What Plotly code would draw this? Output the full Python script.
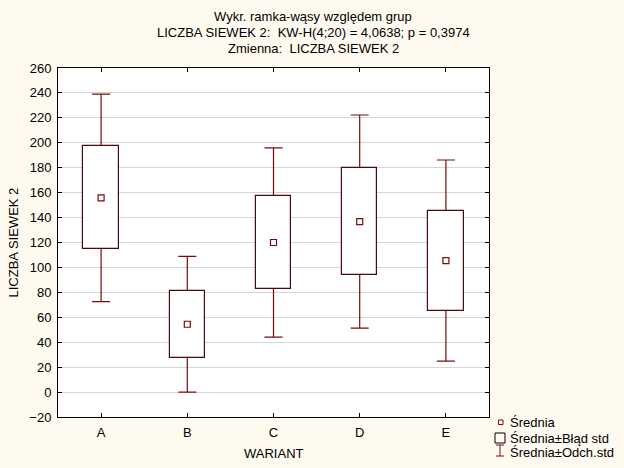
import numpy as np
import plotly.graph_objects as go

categories = ["A", "B", "C", "D", "E"]
means = [155.8, 54.4, 120.0, 136.8, 105.5]
std_err = [41.4, 26.9, 37.7, 42.6, 40.1]
std_dev = [83.3, 54.4, 75.9, 85.5, 80.7]
y_ticks = list(range(-20, 261, 20))

mean = np.array(means)
se = np.array(std_err)
sd = np.array(std_dev)

W, H = 624, 468
L, R, T, B = 58, 489, 68, 417
BOX_COL = "#4a0a0a"
WH_COL = "#7a0c0c"
FONT = "Liberation Sans, Arial, sans-serif"
FS = 13


def px(x):
    return (x - L) / (R - L)


def py(y):
    return (B - y) / (B - T)


fig = go.Figure()

# whiskers: mean ± standard deviation (drawn under the boxes)
fig.add_trace(go.Scatter(
    x=categories, y=mean, mode="markers", marker=dict(size=1, opacity=0),
    error_y=dict(type="data", symmetric=True, array=sd,
                 width=9, thickness=1.2, color=WH_COL),
    showlegend=False, hoverinfo="skip", xaxis="x", yaxis="y"))

# boxes: mean ± standard error, on an overlaid axis pair so they sit above the whiskers
fig.add_trace(go.Bar(
    x=categories, y=2 * se, base=mean - se, width=0.41,
    marker=dict(color="white", line=dict(color=BOX_COL, width=1.2)),
    showlegend=False, hoverinfo="skip", xaxis="x2", yaxis="y2"))

# mean markers
fig.add_trace(go.Scatter(
    x=categories, y=mean, mode="markers",
    marker=dict(symbol="square-open", size=6, color=WH_COL, line=dict(width=1.2, color=WH_COL)),
    showlegend=False, xaxis="x2", yaxis="y2"))

annotations = []
title_lines = ["Wykr. ramka-wąsy względem grup",
               "LICZBA SIEWEK 2:\u00a0 KW-H(4;20) = 4,0638; p = 0,3974",
               "Zmienna:\u00a0 LICZBA SIEWEK 2"]
for i, t in enumerate(title_lines):
    annotations.append(dict(text=t, xref="paper", yref="paper", x=px(313), y=py(16 + 16.2 * i),
                            xanchor="center", yanchor="middle", showarrow=False,
                            font=dict(size=FS, color="black", family=FONT)))

annotations.append(dict(text="LICZBA SIEWEK 2", xref="paper", yref="paper", x=px(13), y=0.5,
                        textangle=-90, xanchor="center", yanchor="middle", showarrow=False,
                        font=dict(size=FS, color="black", family=FONT)))
annotations.append(dict(text="WARIANT", xref="x", yref="paper", x=2, y=py(453),
                        xanchor="center", yanchor="middle", showarrow=False,
                        font=dict(size=FS, color="black", family=FONT)))

legend_items = ["Średnia", "Średnia±Błąd std", "Średnia±Odch.std"]
legend_y = [422, 438, 452]
for t, yy in zip(legend_items, legend_y):
    annotations.append(dict(text=t, xref="paper", yref="paper", x=px(508), y=py(yy),
                            xanchor="left", yanchor="middle", showarrow=False,
                            font=dict(size=FS, color="black", family=FONT)))

shapes = [
    dict(type="rect", xref="paper", yref="paper", x0=px(498.5), x1=px(503), y0=py(424.5), y1=py(420),
         line=dict(color=WH_COL, width=1)),
    dict(type="rect", xref="paper", yref="paper", x0=px(495), x1=px(505), y0=py(443), y1=py(433),
         line=dict(color="black", width=1)),
    dict(type="line", xref="paper", yref="paper", x0=px(500), x1=px(500), y0=py(456), y1=py(445),
         line=dict(color=WH_COL, width=1)),
    dict(type="line", xref="paper", yref="paper", x0=px(496), x1=px(504), y0=py(445), y1=py(445),
         line=dict(color=WH_COL, width=1)),
    dict(type="line", xref="paper", yref="paper", x0=px(496), x1=px(504), y0=py(456), y1=py(456),
         line=dict(color=WH_COL, width=1)),
]

fig.update_layout(
    width=W, height=H,
    margin=dict(l=L, r=W - R, t=T, b=H - B, pad=0),
    paper_bgcolor="#fffaf0", plot_bgcolor="white",
    font=dict(family=FONT, size=FS, color="black"),
    annotations=annotations, shapes=shapes,
    xaxis=dict(type="category", categoryarray=categories, range=[-0.5, 4.5], showgrid=False,
               showline=True, linecolor="black", linewidth=1, mirror="ticks", ticks="inside",
               ticklen=4, tickcolor="black", zeroline=False, ticklabelstandoff=3),
    yaxis=dict(range=[-20, 260], tickvals=y_ticks, showgrid=True, gridcolor="#d6d6d6",
               gridwidth=1, showline=True, linecolor="black", linewidth=1, mirror="ticks",
               ticks="inside", ticklen=4, tickcolor="black", zeroline=False,
               ticklabelstandoff=3),
    xaxis2=dict(type="category", categoryarray=categories, overlaying="x", matches="x",
                visible=False),
    yaxis2=dict(overlaying="y", matches="y", visible=False),
    bargap=0,
)

fig.write_html("out.html", config={"displayModeBar": False},
               post_script="document.body.style.margin='0px';")
